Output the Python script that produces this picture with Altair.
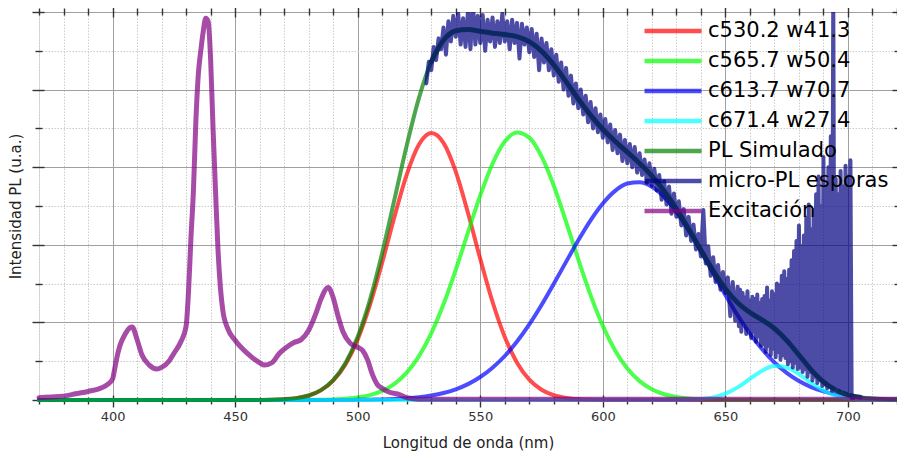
import altair as alt
import pandas as pd

FONT = "DejaVu Sans"

# ---------------- data ----------------
wl5 = list(range(370, 721, 5))  # 370 .. 720 nm every 5 nm (71 points)

red = [0, 0, 0, 0, 0, 0, 0, 0, 0, 0, 0, 0, 0, 0, 0, 0, 0, 0,
       0.001, 0.003, 0.010, 0.024, 0.057, 0.124, 0.249, 0.459, 0.781, 1.225,
       1.772, 2.363, 2.905, 3.292, 3.440, 3.313, 2.943, 2.410, 1.819, 1.266,
       0.812, 0.481, 0.262, 0.132, 0.061, 0.026, 0.010, 0.004, 0.001,
       0, 0, 0, 0, 0, 0, 0, 0, 0, 0, 0, 0, 0, 0, 0, 0, 0, 0, 0, 0, 0, 0, 0, 0]

green = [0, 0, 0, 0, 0, 0, 0, 0, 0, 0, 0, 0, 0, 0, 0, 0, 0, 0, 0, 0, 0, 0,
         0.001, 0.003, 0.007, 0.015, 0.031, 0.062, 0.117, 0.209, 0.353, 0.566,
         0.859, 1.233, 1.678, 2.161, 2.636, 3.045, 3.330, 3.448, 3.381, 3.139,
         2.760, 2.297, 1.811, 1.352, 0.955, 0.639, 0.405, 0.243, 0.138, 0.074,
         0.038, 0.018, 0.008, 0.003, 0.001,
         0, 0, 0, 0, 0, 0, 0, 0, 0, 0, 0, 0, 0, 0]

blue = [0, 0, 0, 0, 0, 0, 0, 0, 0, 0, 0, 0, 0, 0, 0, 0, 0, 0, 0, 0, 0, 0, 0, 0, 0, 0,
        0.002, 0.004, 0.007, 0.013, 0.022, 0.036, 0.058, 0.090, 0.138, 0.205,
        0.296, 0.416, 0.567, 0.754, 0.974, 1.224, 1.497, 1.780, 2.058, 2.315,
        2.532, 2.695, 2.789, 2.807, 2.749, 2.618, 2.425, 2.185, 1.914, 1.632,
        1.353, 1.091, 0.856, 0.653, 0.484, 0.350, 0.245, 0.167, 0.111, 0.072,
        0.045, 0.028, 0.016, 0.009, 0.005]

cyan = [0, 0, 0, 0, 0, 0, 0, 0, 0, 0, 0, 0, 0, 0, 0, 0, 0, 0, 0, 0, 0, 0, 0, 0, 0, 0,
        0, 0, 0, 0, 0, 0, 0, 0, 0, 0, 0, 0, 0, 0, 0, 0, 0, 0, 0, 0, 0, 0, 0, 0, 0, 0,
        0.001, 0.003, 0.012, 0.034, 0.081, 0.163, 0.272, 0.378, 0.437, 0.419,
        0.335, 0.222, 0.123, 0.056, 0.021, 0.007, 0.002, 0, 0]

pl_sim = [0, 0, 0, 0, 0, 0, 0, 0, 0, 0, 0, 0, 0, 0, 0, 0, 0,
          0, 0.001, 0.003, 0.010, 0.024, 0.058, 0.127, 0.257, 0.475, 0.814,
          1.291, 1.896, 2.585, 3.280, 3.894, 4.357, 4.636, 4.759, 4.776, 4.751,
          4.727, 4.709, 4.683, 4.617, 4.495, 4.318, 4.103, 3.879, 3.671, 3.488,
          3.334, 3.194, 3.050, 2.887, 2.692, 2.464, 2.206, 1.934, 1.669, 1.435,
          1.254, 1.128, 1.031, 0.921, 0.769, 0.580, 0.389, 0.234, 0.128, 0.066,
          0.035, 0.018, 0.009, 0.005]

# micro-PL measured spectrum
mpl_x1 = list(range(528, 656))  # 1 nm steps
mpl_y1 = [4.08, 4.36, 4.25, 4.55, 4.38, 4.66, 4.52, 4.80, 4.45, 4.88,
          4.62, 4.95, 4.68, 4.98, 4.58, 4.92, 4.55, 5.02, 4.52, 5.12,
          4.58, 4.95, 4.60, 4.96, 4.50, 4.90, 4.62, 4.93, 4.55, 4.88,
          4.60, 4.98, 4.62, 4.88, 4.52, 4.90, 4.60, 4.86, 4.40, 4.85,
          4.58, 4.80, 4.48, 4.78, 4.42, 4.72, 4.25, 4.66, 4.35, 4.60,
          4.25, 4.52, 4.18, 4.45, 4.10, 4.35, 4.00, 4.28, 3.92, 4.18,
          3.82, 4.08, 3.76, 4.00, 3.68, 3.92, 3.58, 3.84, 3.50, 3.76,
          3.45, 3.68, 3.38, 3.62, 3.32, 3.55, 3.22, 3.48, 3.18, 3.42,
          3.08, 3.35, 3.05, 3.30, 3.00, 3.26, 2.93, 3.18, 2.90, 3.10,
          2.80, 3.05, 2.76, 2.98, 2.70, 2.90, 2.58, 2.82, 2.52, 2.75,
          2.40, 2.66, 2.36, 2.56, 2.25, 2.46, 2.12, 2.36, 2.05, 2.26,
          1.94, 2.14, 1.85, 2.45, 1.76, 1.98, 1.60, 1.84, 1.52, 1.74,
          1.42, 1.65, 1.38, 1.58, 1.08, 1.52, 1.02, 1.46]
mpl_x2 = [655.5 + 0.5 * i for i in range(94)]  # 0.5 nm steps to 702
mpl_y2 = [0.95, 1.42, 0.88, 1.38, 1.00, 1.32, 0.85, 1.40, 0.92, 1.28,
          0.80, 1.33, 0.88, 1.30, 0.75, 1.36, 0.82, 1.25, 0.70, 1.30,
          0.72, 1.34, 0.62, 1.45, 0.70, 1.28, 0.58, 1.40, 0.66, 1.36,
          0.55, 1.50, 0.62, 1.48, 0.52, 1.60, 0.58, 1.66, 0.54, 1.56,
          0.46, 1.68, 0.50, 1.80, 0.42, 1.92, 0.48, 2.05, 0.40, 2.25,
          0.42, 1.98, 0.36, 2.12, 0.40, 2.35, 0.30, 2.52, 0.36, 2.20,
          0.25, 2.45, 0.30, 2.65, 0.22, 2.88, 0.26, 2.50, 0.18, 3.13,
          0.20, 2.75, 0.15, 3.00, 0.18, 3.40, 0.12, 5.30, 0.15, 2.85,
          0.18, 2.65, 0.12, 2.95, 0.15, 2.75, 0.12, 3.02, 0.10, 2.88,
          0.12, 3.09, 0.02, 0.01]

# excitation spectrum
exc_x = [370, 375, 380, 385, 390, 395, 398, 400, 401, 402, 403, 405, 407, 408,
         410, 412, 415, 418, 420, 423, 425, 428, 430, 431, 432, 433, 434, 435,
         436, 437, 438, 439, 440, 441, 442, 443, 444, 445, 447, 450, 455, 460,
         462, 465, 468, 471, 474, 477, 480, 483, 485, 488, 490, 492, 494, 497,
         500, 502, 504, 506, 508, 510, 513, 517, 520, 525, 540, 560, 580, 600,
         620, 640, 660, 680, 700, 720]
exc_y = [0.03, 0.04, 0.05, 0.08, 0.11, 0.15, 0.20, 0.27, 0.42, 0.58, 0.70, 0.84, 0.93, 0.94,
         0.78, 0.58, 0.45, 0.40, 0.42, 0.50, 0.60, 0.76, 0.95, 1.40, 2.10, 2.70, 3.60, 4.20,
         4.50, 4.75, 4.92, 4.88, 4.40, 3.50, 2.70, 1.95, 1.45, 1.15, 0.92, 0.77, 0.60, 0.48,
         0.45, 0.48, 0.60, 0.68, 0.74, 0.78, 0.90, 1.12, 1.30, 1.45, 1.32, 1.08, 0.88, 0.73,
         0.68, 0.64, 0.52, 0.33, 0.20, 0.15, 0.10, 0.07, 0.03, 0.01, 0.01, 0.01, 0.01, 0.01,
         0.01, 0.01, 0.01, 0.01, 0.01, 0.01]

series_names = ["c530.2 w41.3", "c565.7 w50.4", "c613.7 w70.7", "c671.4 w27.4",
                "PL Simulado", "micro-PL esporas", "Excitación"]
series_colors = ["rgba(255,0,0,0.7)", "rgba(0,255,0,0.7)", "rgba(0,0,255,0.7)",
                 "rgba(0,255,255,0.7)", "rgba(0,128,0,0.7)", "rgba(0,0,128,0.7)",
                 "rgba(128,0,128,0.7)"]

x_major = [400, 450, 500, 550, 600, 650, 700]
x_minor = [370, 380, 390, 410, 420, 430, 440, 460, 470, 480, 490, 510, 520, 530, 540,
           560, 570, 580, 590, 610, 620, 630, 640, 660, 670, 680, 690, 710, 720]
y_major = [0, 1, 2, 3, 4, 5]
y_minor = [0.5, 1.5, 2.5, 3.5, 4.5]

# ---------------- table ----------------
rows = []
for name, vals in zip(series_names[:5], [red, green, blue, cyan, pl_sim]):
    rows += [{"wl": w, "v": v, "s": name} for w, v in zip(wl5, vals)]
rows += [{"wl": w, "v": v, "s": series_names[5]}
         for w, v in zip(mpl_x1 + mpl_x2, mpl_y1 + mpl_y2)]
rows += [{"wl": w, "v": v, "s": series_names[6]} for w, v in zip(exc_x, exc_y)]
df = pd.DataFrame(rows)

# ---------------- helpers ----------------
xs = alt.Scale(domain=[370, 720], nice=False, zero=False)
ys = alt.Scale(domain=[0, 5], nice=False, zero=False)

TICK = dict(tickColor="#333333", tickWidth=1.4, domain=False, zindex=0)


def xaxis(orient, values, major, labels=False, grid=False, title=None):
    kw = dict(orient=orient, values=values, grid=grid, labels=labels, **TICK)
    if major:
        kw.update(offset=-5, tickSize=12, gridColor="#a0a0a0", gridWidth=1)
    else:
        kw.update(offset=-3, tickSize=7, gridColor="#cccccc", gridWidth=1,
                  gridDash=[1.5, 1.5])
    if labels:
        kw.update(labelFont=FONT, labelFontSize=13, labelColor="#333333",
                  labelPadding=3, format="d", labelFlush=False)
    if title:
        kw.update(title=title, titleFont=FONT, titleFontSize=15, titleFontWeight="normal",
                  titleColor="#222222", titlePadding=12 if orient == "bottom" else 8)
    else:
        kw.update(title=None)
    return alt.Axis(**kw)


LEG = alt.Legend(orient="none", legendX=603, legendY=4, title=None,
                 symbolType="stroke", symbolSize=3249, symbolStrokeWidth=4.5,
                 labelFont=FONT, labelFontSize=21, labelColor="#000000",
                 labelOffset=4, clipHeight=30, rowPadding=0, padding=0,
                 labelLimit=400)

COLOR = alt.Color("s:N", scale=alt.Scale(domain=series_names, range=series_colors),
                  legend=LEG)

base = alt.Chart(df)


def layer(name, ax_x, ax_y, width=4, interp="monotone", clip=False):
    return base.transform_filter(alt.datum.s == name).mark_line(
        strokeWidth=width, interpolate=interp, strokeCap="round", strokeJoin="round",
        clip=clip
    ).encode(
        x=alt.X("wl:Q", scale=xs, axis=ax_x),
        y=alt.Y("v:Q", scale=ys, axis=ax_y),
        color=COLOR,
        order=alt.value(0),
    )


l_red = layer(series_names[0],
              xaxis("bottom", x_major, True, labels=True, grid=True,
                    title="Longitud de onda (nm)"),
              xaxis("left", y_major, True, grid=True, title="Intensidad PL (u.a.)"))
l_green = layer(series_names[1],
                xaxis("bottom", x_minor, False, grid=True),
                xaxis("left", y_minor, False, grid=True))
l_blue = layer(series_names[2],
               xaxis("top", x_major, True),
               xaxis("right", y_major, True))
l_cyan = layer(series_names[3],
               xaxis("top", x_minor, False),
               xaxis("right", y_minor, False))
l_sim = layer(series_names[4], None, None)
l_mpl = layer(series_names[5], None, None, width=4, interp="linear", clip=True)
l_fit = base.transform_filter(
    (alt.datum.s == "PL Simulado") & (alt.datum.wl >= 530) & (alt.datum.wl <= 705)
).mark_line(strokeWidth=5, interpolate="monotone", strokeCap="round",
            color="#0a285e", opacity=0.85).encode(
    x=alt.X("wl:Q", scale=xs, axis=None),
    y=alt.Y("v:Q", scale=ys, axis=None),
)
l_exc = layer(series_names[6], None, None, width=5)

chart = alt.layer(
    l_red, l_green, l_blue, l_cyan, l_sim, l_mpl, l_fit, l_exc
).resolve_axis(
    x="independent", y="independent"
).properties(
    width=858, height=388,
    autosize=alt.AutoSizeParams(type="none"),
    padding={"left": 31, "top": 4, "right": 0, "bottom": 54},
).configure_view(
    stroke="#222222", strokeWidth=1.5
).configure(background="white")

chart.save("out.html", embed_options={"renderer": "svg", "actions": False})
